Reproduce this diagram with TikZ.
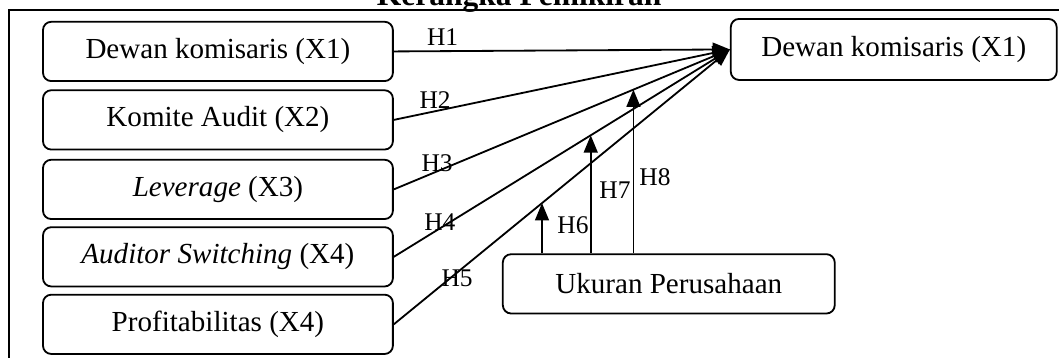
\documentclass[tikz,border=0pt]{standalone}
\usepackage{fontspec}
\setmainfont{Liberation Serif}
\usetikzlibrary{arrows.meta,calc}
\begin{document}
\begin{tikzpicture}[x=1cm,y=1cm,line width=0.75pt,
  box/.style={draw,rounded corners=0.12cm,align=center,minimum height=0.86cm,font=\fontsize{12}{14}\selectfont},
  arr/.style={-{Triangle[length=0.25cm,width=0.2cm]}},
  lab/.style={font=\fontsize{10.5}{12}\selectfont,inner sep=0pt}]
\useasboundingbox (0,0) rectangle (15.36,5.19);
\draw (0.13,-0.5) rectangle (16,5.04);
\node[font=\bfseries\fontsize{13}{15}\selectfont,anchor=base] (t) at (7.53,5.11) {Kerangka Pemikiran};
\node[box,minimum width=5.075cm] (x1) at (3.161,4.444) {Dewan komisaris (X1)};
\node[box,minimum width=5.075cm] (x2) at (3.161,3.451) {Komite Audit (X2)};
\node[box,minimum width=5.075cm] (x3) at (3.161,2.443) {\textit{Leverage} (X3)};
\node[box,minimum width=5.075cm] (x4) at (3.161,1.465) {\textit{Auditor Switching} (X4)};
\node[box,minimum width=5.075cm] (x5) at (3.161,0.486) {Profitabilitas (X4)};
\node[box,minimum width=4.727cm,minimum height=0.885cm] (y) at (12.963,4.473) {Dewan komisaris (X1)};
\node[box,minimum width=4.814cm] (z) at (9.70,1.073) {Ukuran Perusahaan};
\draw[arr] (x1.east) -- (y.west);
\draw[arr] (x2.east) -- (y.west);
\draw[arr] (x3.east) -- (y.west);
\draw[arr] (x4.east) -- (y.west);
\draw[arr] (x5.east) -- (y.west);
\coordinate (p6) at ($(x5.east)!0.441!(y.west)$);
\coordinate (p7) at ($(x4.east)!0.586!(y.west)$);
\coordinate (p8) at ($(x3.east)!0.713!(y.west)$);
\draw[arr] (z.north -| p6) -- (p6);
\draw[arr] (z.north -| p7) -- (p7);
\draw[arr] (z.north -| p8) -- (p8);
\node[lab] (h1) at (6.42,4.655) {H1};
\node[lab] (h2) at (6.31,3.741) {H2};
\node[lab] (h3) at (6.34,2.828) {H3};
\node[lab] (h4) at (6.38,1.972) {H4};
\node[lab] (h5) at (6.63,1.16) {H5};
\node[lab] (h6) at (8.31,1.929) {H6};
\node[lab] (h7) at (8.92,2.436) {H7};
\node[lab] (h8) at (9.50,2.625) {H8};
\end{tikzpicture}
\end{document}
